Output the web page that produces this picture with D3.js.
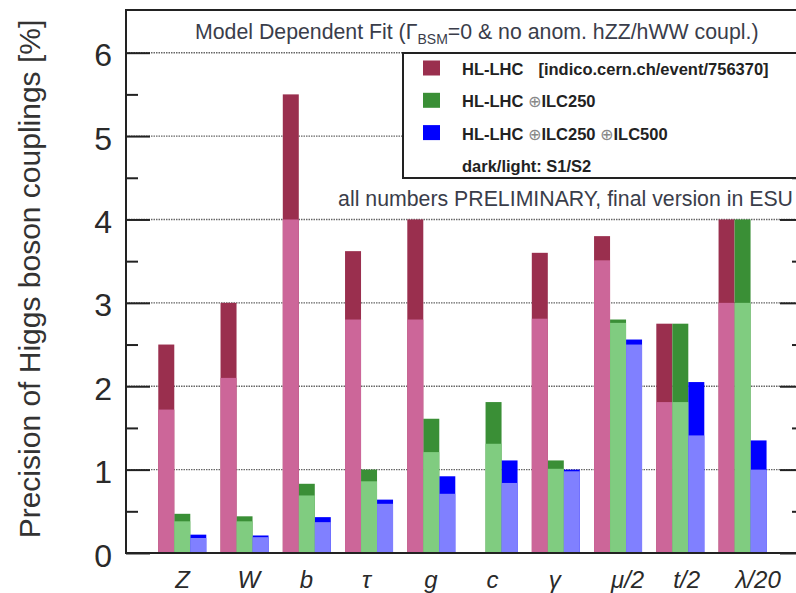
<!DOCTYPE html>
<html>
<head>
<meta charset="utf-8">
<script src="https://cdn.jsdelivr.net/npm/d3@7"></script>
<style>
  html, body { margin: 0; padding: 0; background: #fff; }
  svg { display: block; font-family: "Liberation Sans", Arial, sans-serif; }
</style>
</head>
<body>
<svg id="chart" width="796" height="593"></svg>
<script>
// Categories (couplings) and the three scenarios
const categories = ['Z', 'W', 'b', 'τ', 'g', 'c', 'γ', 'μ/2', 't/2', 'λ/20'];
const scenarios = ['HL-LHC', 'ILC250', 'ILC500'];

// precision in %, S1 = dark (upper), S2 = light (lower); null = not measured
const hllhcS1 = [2.5, 3.0, 5.5, 3.62, 4.0, null, 3.6, 3.8, 2.75, 4.0];
const hllhcS2 = [1.72, 2.1, 4.0, 2.8, 2.8, null, 2.81, 3.51, 1.81, 3.0];
const ilc250S1 = [0.47, 0.44, 0.83, 1.0, 1.61, 1.81, 1.11, 2.8, 2.75, 4.0];
const ilc250S2 = [0.38, 0.38, 0.69, 0.86, 1.21, 1.31, 1.01, 2.76, 1.81, 3.0];
const ilc500S1 = [0.22, 0.21, 0.43, 0.64, 0.92, 1.11, 1.0, 2.56, 2.05, 1.35];
const ilc500S2 = [0.18, 0.19, 0.37, 0.59, 0.71, 0.84, 0.98, 2.5, 1.41, 1.0];

const yMajor = [0, 1, 2, 3, 4, 5, 6];
const yMinor = [0.5, 1.5, 2.5, 3.5, 4.5, 5.5];

const darkColors = ['#9a2f4e', '#3a8f36', '#0000ff'];
const lightColors = ['#cc6699', '#80cc80', '#8080ff'];

const margin = { left: 126, right: 804, top: 10, bottom: 553 };

const svg = d3.select('#chart');

const x = d3
  .scaleBand()
  .domain(categories)
  .range([margin.left, margin.right])
  .paddingInner(0.229)
  .paddingOuter(0.56)
  .align(0.463);

const xInner = d3.scaleBand().domain(scenarios).range([0, x.bandwidth()]);

const y = d3.scaleLinear().domain([0, 6.5]).range([margin.bottom, margin.top + 1]);

// Grid lines (dotted)
svg
  .append('g')
  .attr('class', 'grid')
  .selectAll('line')
  .data(yMajor.filter((d) => d > 0))
  .enter()
  .append('line')
  .attr('x1', margin.left)
  .attr('x2', margin.right)
  .attr('y1', (d) => y(d))
  .attr('y2', (d) => y(d))
  .attr('stroke', '#666')
  .attr('stroke-width', 1.4)
  .attr('stroke-dasharray', '1.5,1');

// Bars: build rows per category / scenario
const rows = [];
categories.forEach((c, i) => {
  const s1 = [hllhcS1[i], ilc250S1[i], ilc500S1[i]];
  const s2 = [hllhcS2[i], ilc250S2[i], ilc500S2[i]];
  scenarios.forEach((s, j) => {
    if (s1[j] == null) return;
    rows.push({ cat: c, scen: s, idx: j, s1: s1[j], s2: s2[j] });
  });
});

const bars = svg.append('g').attr('class', 'bars');

bars
  .selectAll('rect.dark')
  .data(rows)
  .enter()
  .append('rect')
  .attr('class', 'dark')
  .attr('x', (d) => x(d.cat) + xInner(d.scen))
  .attr('width', xInner.bandwidth())
  .attr('y', (d) => y(d.s1))
  .attr('height', (d) => y(0) - y(d.s1))
  .attr('fill', (d) => darkColors[d.idx]);

bars
  .selectAll('rect.light')
  .data(rows)
  .enter()
  .append('rect')
  .attr('class', 'light')
  .attr('x', (d) => x(d.cat) + xInner(d.scen))
  .attr('width', xInner.bandwidth())
  .attr('y', (d) => y(d.s2))
  .attr('height', (d) => y(0) - y(d.s2))
  .attr('fill', (d) => lightColors[d.idx]);

// Axes: major + minor ticks, left and right, pointing inwards
function styleAxis(g) {
  g.select('.domain').remove();
  g.selectAll('.tick line').attr('stroke', '#222').attr('stroke-width', 2);
}

svg
  .append('g')
  .attr('transform', `translate(${margin.left},0)`)
  .call(d3.axisLeft(y).tickValues(yMajor).tickSize(-24).tickPadding(14).tickFormat(d3.format('d')))
  .call(styleAxis)
  .call((g) =>
    g
      .selectAll('.tick text')
      .attr('font-size', 32)
      .attr('font-family', '"Liberation Sans", Arial, sans-serif')
      .attr('fill', '#2a2a2a')
      .attr('dy', 13)
  );

svg
  .append('g')
  .attr('transform', `translate(${margin.left},0)`)
  .call(d3.axisLeft(y).tickValues(yMinor).tickSize(-12).tickFormat(''))
  .call(styleAxis);

svg
  .append('g')
  .attr('transform', `translate(${margin.right},0)`)
  .call(d3.axisRight(y).tickValues(yMajor).tickSize(-24).tickFormat(''))
  .call(styleAxis);

svg
  .append('g')
  .attr('transform', `translate(${margin.right},0)`)
  .call(d3.axisRight(y).tickValues(yMinor).tickSize(-12).tickFormat(''))
  .call(styleAxis);

// Frame
svg
  .append('rect')
  .attr('x', margin.left)
  .attr('y', margin.top)
  .attr('width', margin.right - margin.left)
  .attr('height', margin.bottom - margin.top)
  .attr('fill', 'none')
  .attr('stroke', '#222')
  .attr('stroke-width', 2);

// X labels, left-aligned at the start of the middle bar
svg
  .append('g')
  .selectAll('text')
  .data(categories)
  .enter()
  .append('text')
  .attr('x', (d) => x(d) + xInner('ILC250') + 1)
  .attr('y', 588)
  .attr('text-anchor', 'start')
  .attr('font-size', 24)
  .attr('font-style', 'italic')
  .attr('fill', '#2a2a2a')
  .text((d) => d);

// Y title
svg
  .append('text')
  .attr('transform', `translate(40,${(15 + 543) / 2}) rotate(-90)`)
  .attr('text-anchor', 'middle')
  .attr('font-size', 30)
  .attr('fill', '#333')
  .text('Precision of Higgs boson couplings [%]');

// Title
const title = svg
  .append('text')
  .attr('x', 195)
  .attr('y', 39)
  .attr('font-size', 21.3)
  .attr('fill', '#3a3d4a');
title.append('tspan').text('Model Dependent Fit (Γ');
title.append('tspan').attr('font-size', 14).attr('dy', 5).text('BSM');
title.append('tspan').attr('dy', -5).text('=0 & no anom. hZZ/hWW coupl.)');

// Legend
const legend = svg.append('g').attr('class', 'legend');
legend
  .append('rect')
  .attr('x', 403)
  .attr('y', 53)
  .attr('width', 420)
  .attr('height', 125)
  .attr('fill', '#fff')
  .attr('stroke', '#222')
  .attr('stroke-width', 2);

const legendRows = [
  [{ t: 'HL-LHC' }, { t: '[indico.cern.ch/event/756370]', dx: 15 }],
  [{ t: 'HL-LHC ' }, { t: '⊕', op: true }, { t: 'ILC250' }],
  [{ t: 'HL-LHC ' }, { t: '⊕', op: true }, { t: 'ILC250 ' }, { t: '⊕', op: true }, { t: 'ILC500' }],
  [{ t: 'dark/light: S1/S2' }],
];

legendRows.forEach((parts, i) => {
  const cy = 68 + i * 32.3;
  if (i < 3) {
    legend
      .append('rect')
      .attr('x', 423)
      .attr('y', cy - 7.5)
      .attr('width', 17)
      .attr('height', 15)
      .attr('fill', darkColors[i]);
  }
  const t = legend
    .append('text')
    .attr('x', 462)
    .attr('y', cy + 7)
    .attr('font-size', 16.5)
    .attr('font-weight', 'bold')
    .attr('fill', '#222');
  parts.forEach((p) => {
    const ts = t.append('tspan').text(p.t);
    if (p.dx) ts.attr('dx', p.dx);
    if (p.op) ts.attr('fill', '#888').attr('font-weight', 'normal').attr('font-size', 16).attr('font-family', 'DejaVu Sans');
  });
});

// Preliminary note
svg
  .append('text')
  .attr('x', 793)
  .attr('y', 206)
  .attr('text-anchor', 'end')
  .attr('font-size', 21.3)
  .attr('fill', '#3a3d4a')
  .text('all numbers PRELIMINARY, final version in ESU');
</script>
</body>
</html>
